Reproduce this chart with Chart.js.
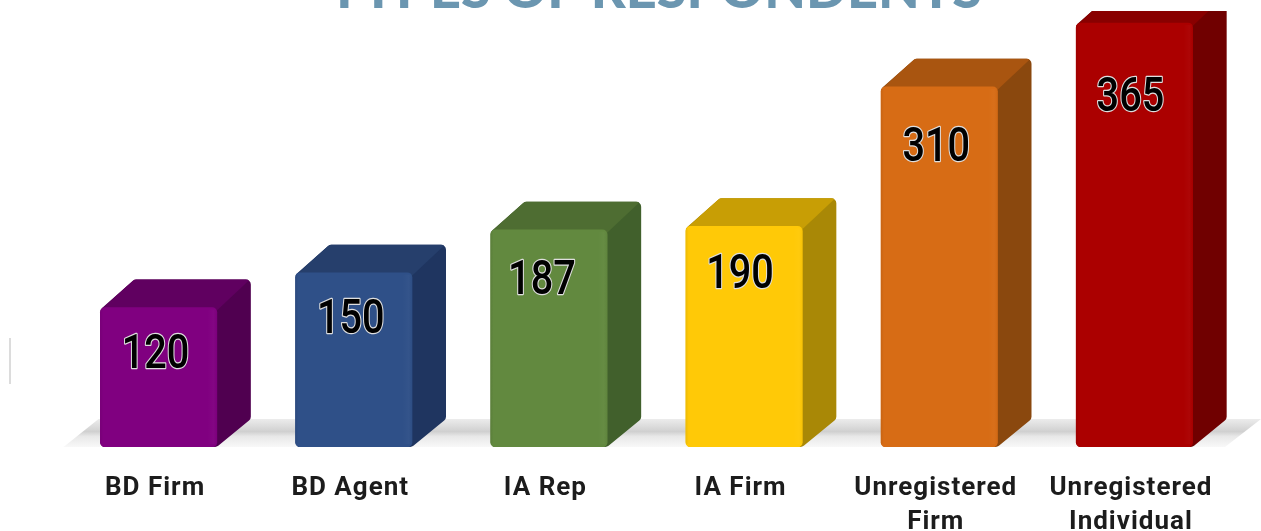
<!DOCTYPE html>
<html><head><meta charset="utf-8">
<style>html,body{margin:0;padding:0;background:#fff;overflow:hidden}#w{width:1261px;height:531px}canvas{display:block}</style>
<script src="https://cdn.jsdelivr.net/npm/chart.js@4"></script></head>
<body><div id="w"><canvas id="c" width="1261" height="531"></canvas></div>
<script>
const titleText = 'TYPES OF RESPONDENTS';
const categories = ['BD Firm', 'BD Agent', 'IA Rep', 'IA Firm', ['Unregistered', 'Firm'], ['Unregistered', 'Individual']];
const respondents = [120, 150, 187, 190, 310, 365];
const frontColors = ['#800080', '#2f5088', '#62893f', '#ffc907', '#d76c15', '#ab0000'];
const topColors = ['#600060', '#263f6c', '#4e6d32', '#c89e05', '#a95510', '#890000'];
const sideColors = ['#500050', '#1f3560', '#41602c', '#a98806', '#8a480e', '#700000'];
const labelDx = [-3, -3, -7, -4, -3, -4];
const labelDy = [48, 48, 52, 49, 62, 76];
const DEPTH_X = 34, DEPTH_Y = 28;

function roundedPoly(ctx, pts, r) {
  ctx.beginPath();
  const n = pts.length;
  ctx.moveTo((pts[n-1][0]+pts[0][0])/2, (pts[n-1][1]+pts[0][1])/2);
  for (let i = 0; i < n; i++) {
    const a = pts[i], b = pts[(i+1)%n];
    ctx.arcTo(a[0], a[1], (a[0]+b[0])/2, (a[1]+b[1])/2, r);
  }
  ctx.closePath();
}

const extrude = {
  id: 'extrude',
  beforeDraw(chart) { chart.ctx.letterSpacing = '1px'; },
  beforeDatasetsDraw(chart) {
    const { ctx, chartArea: ca } = chart;
    const bars = chart.getDatasetMeta(0).data;
    ctx.save();
    const base = bars[0].base;
    const g = ctx.createLinearGradient(0, base - DEPTH_Y, 0, base);
    g.addColorStop(0, '#ececec'); g.addColorStop(0.45, '#d0d0d0');
    g.addColorStop(0.62, '#e8e8e8'); g.addColorStop(1, '#f8f8f8');
    ctx.fillStyle = g;
    ctx.beginPath();
    ctx.moveTo(bars[0].x - 95, base);
    ctx.lineTo(bars[0].x - 60, base - DEPTH_Y);
    ctx.lineTo(1261, base - DEPTH_Y);
    ctx.lineTo(1225, base);
    ctx.closePath(); ctx.fill();
    ctx.fillStyle = '#dcdcdc';
    ctx.fillRect(9, 338, 2, 46);
    ctx.restore();

    ctx.save();
    ctx.beginPath();
    ctx.rect(0, ca.top, chart.width, chart.height - ca.top);
    ctx.clip();
    bars.forEach((b, i) => {
      const l = b.x - b.width/2, r = b.x + b.width/2, t = b.y, bt = b.base;
      ctx.save();
      ctx.fillStyle = sideColors[i];
      roundedPoly(ctx, [[l, t+2], [l+DEPTH_X, t-DEPTH_Y], [r+DEPTH_X, t-DEPTH_Y], [r+DEPTH_X, bt-DEPTH_Y], [r, bt], [l, bt]], 5);
      ctx.fill();
      ctx.clip();
      ctx.fillStyle = topColors[i];
      ctx.beginPath();
      ctx.moveTo(l, t+3);
      ctx.lineTo(l+DEPTH_X, t-DEPTH_Y-1);
      ctx.lineTo(r+DEPTH_X, t-DEPTH_Y-1);
      ctx.lineTo(r, t+3);
      ctx.closePath();
      ctx.fill();
      ctx.restore();
    });
    ctx.restore();
  },
  afterDatasetsDraw(chart) {
    const { ctx } = chart;
    const bars = chart.getDatasetMeta(0).data;
    ctx.save();
    ctx.letterSpacing = '0px';
    bars.forEach((b) => {
      const l = b.x - b.width/2, w = b.width;
      const g = ctx.createLinearGradient(l, 0, l + w, 0);
      g.addColorStop(0, 'rgba(0,0,0,0.07)'); g.addColorStop(0.025, 'rgba(0,0,0,0)');
      g.addColorStop(0.92, 'rgba(255,255,255,0)'); g.addColorStop(0.97, 'rgba(255,255,255,0.025)');
      g.addColorStop(1, 'rgba(0,0,0,0.03)');
      ctx.fillStyle = g;
      ctx.fillRect(l, Math.max(b.y, chart.chartArea.top) + 2, w, b.base - b.y - 5);
    });
    ctx.textAlign = 'center'; ctx.textBaseline = 'middle';
    ctx.lineJoin = 'round';
    bars.forEach((b, i) => {
      ctx.save();
      ctx.translate(b.x + labelDx[i], b.y + labelDy[i]);
      ctx.scale(0.81, 1);
      ctx.font = '500 49px Roboto';
      ctx.lineWidth = 2.5;
      ctx.strokeStyle = '#dedede';
      const s = String(respondents[i]);
      ctx.strokeText(s, 0, 0);
      ctx.fillStyle = '#000';
      ctx.fillText(s, 0, 0);
      ctx.restore();
    });
    ctx.restore();
  },
  afterDraw(chart) {
    const { ctx } = chart;
    ctx.save();
    ctx.letterSpacing = '0px';
    ctx.font = '900 54px Lato';
    ctx.fillStyle = '#6b96b0';
    ctx.textAlign = 'center'; ctx.textBaseline = 'alphabetic';
    ctx.fillText(titleText, 655, 8);
    ctx.restore();
  }
};

new Chart(document.getElementById('c'), {
  type: 'bar',
  data: { labels: categories, datasets: [{ data: respondents, backgroundColor: frontColors, barThickness: 116.5,
    borderRadius: 5, borderSkipped: false }] },
  plugins: [extrude],
  options: {
    responsive: false, animation: false,
    layout: { padding: { left: 61, right: 29, top: 11, bottom: 0 } },
    plugins: { legend: { display: false }, tooltip: { enabled: false }, title: { display: false } },
    scales: {
      y: { display: false, min: 0, max: 375.3 },
      x: {
        afterFit(s) { s.height = 84; },
        border: { display: false }, grid: { display: false },
        ticks: { color: '#1c1c1c', autoSkip: false, maxRotation: 0, padding: 16, labelOffset: -3.5,
          font: { family: 'Roboto', size: 26, weight: 'bold', lineHeight: 1.31 } }
      }
    }
  }
});
</script></body></html>
